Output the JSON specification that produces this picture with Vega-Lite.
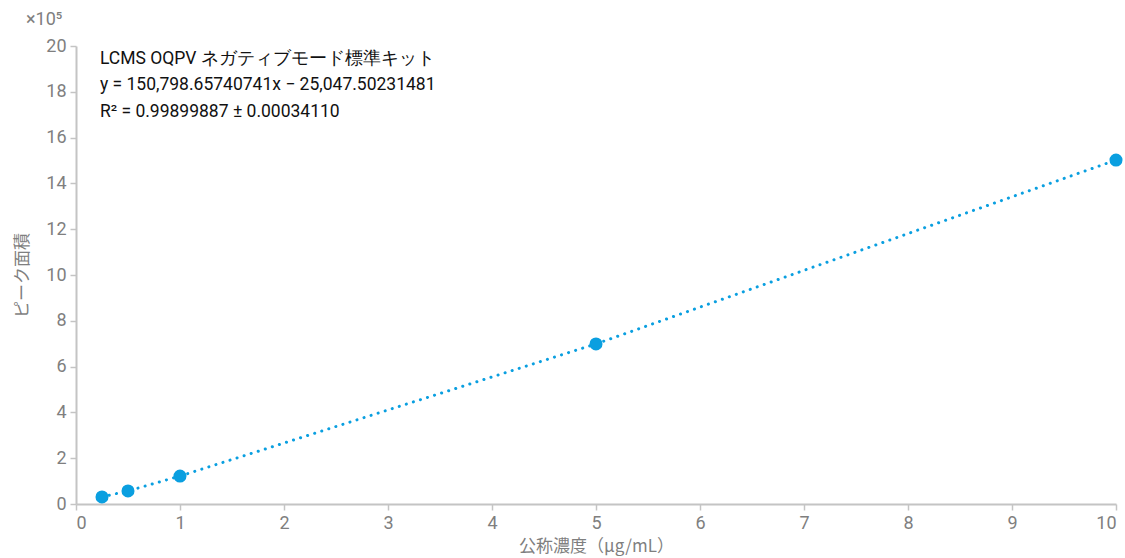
{
  "$schema": "https://vega.github.io/schema/vega-lite/v6.json",
  "width": 1040,
  "height": 458,
  "padding": {"left": 13, "top": 11, "right": 9, "bottom": 12},
  "background": "white",
  "config": {
    "font": "Roboto",
    "view": {"stroke": null},
    "axis": {
      "grid": false,
      "domainColor": "#c4c4c4",
      "domainWidth": 2,
      "tickColor": "#c4c4c4",
      "tickWidth": 1.5,
      "tickSize": 6,
      "labelColor": "#7f7f7f",
      "labelFontSize": 18,
      "labelFont": "Roboto",
      "titleColor": "#7f7f7f",
      "titleFontSize": 17,
      "titleFontWeight": "normal",
      "titleFont": "Noto Sans CJK JP"
    }
  },
  "title": {
    "text": "×10⁵",
    "anchor": "start",
    "frame": "group",
    "dx": -50,
    "offset": 8,
    "fontSize": 18,
    "fontWeight": "normal",
    "color": "#7f7f7f",
    "font": "Roboto"
  },
  "data": {
    "values": [
      {"conc": 0.25, "area": 0.31},
      {"conc": 0.5, "area": 0.57},
      {"conc": 1, "area": 1.22},
      {"conc": 5, "area": 6.99},
      {"conc": 10, "area": 15.02}
    ]
  },
  "layer": [
    {
      "mark": {"type": "line", "color": "#0a9fe0", "strokeWidth": 3, "strokeCap": "round", "strokeDash": [0.1, 7.3]},
      "encoding": {
        "x": {"field": "conc", "type": "quantitative", "scale": {"domain": [0, 10]}, "axis": {"title": "公称濃度（μg/mL）", "tickCount": 10, "labelPadding": 4, "titlePadding": 6}},
        "y": {"field": "area", "type": "quantitative", "scale": {"domain": [0, 20]}, "axis": {"title": "ピーク面積", "values": [0,2,4,6,8,10,12,14,16,18,20], "labelPadding": 4, "titlePadding": 14}}
      }
    },
    {
      "mark": {"type": "point", "filled": true, "opacity": 1, "color": "#0a9fe0", "size": 170},
      "encoding": {
        "x": {"field": "conc", "type": "quantitative"},
        "y": {"field": "area", "type": "quantitative"}
      }
    },
    {
      "data": {"values": [{"label": ["LCMS OQPV ネガティブモード標準キット", "y = 150,798.65740741x − 25,047.50231481", "R² = 0.99899887 ± 0.00034110"]}]},
      "mark": {"type": "text", "align": "left", "baseline": "middle", "fontSize": 17.5, "lineHeight": 26.5, "color": "#111111", "font": "Roboto"},
      "encoding": {
        "x": {"datum": 0.23},
        "y": {"datum": 19.45},
        "text": {"field": "label"}
      }
    }
  ]
}
